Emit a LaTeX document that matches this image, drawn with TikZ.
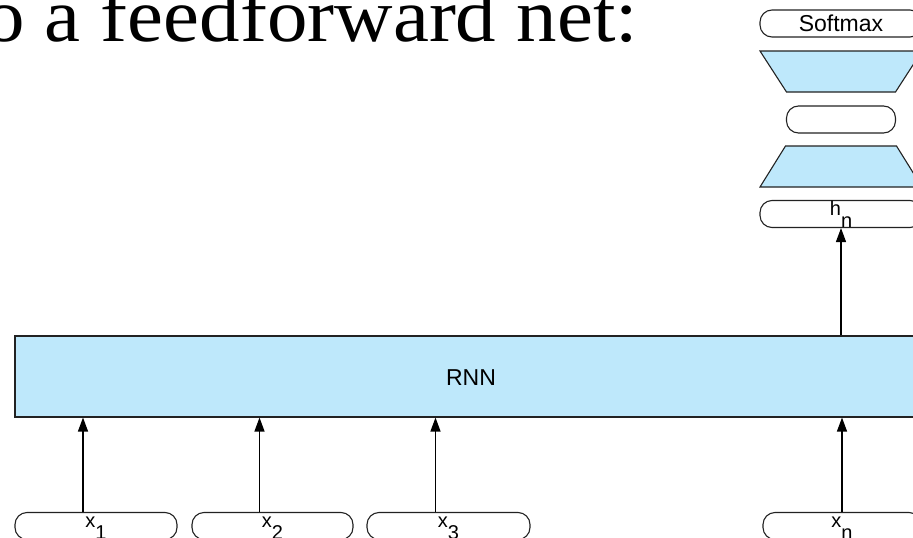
\documentclass[tikz,border=0pt]{standalone}
\usepackage{fontspec}
\setmainfont{Liberation Serif}
\setsansfont{Liberation Sans}
\newfontfamily\headfont[FakeStretch=1.065]{Liberation Serif}
\usetikzlibrary{arrows.meta}

\definecolor{layerblue}{HTML}{BEE8FB}
\definecolor{edgegray}{HTML}{222222}

\tikzset{
  pill/.style={draw=edgegray, line width=1.1pt, rounded corners=12pt,
    inner sep=0pt, minimum height=27pt},
  layer/.style={draw=edgegray, line width=1.1pt, fill=layerblue, line join=miter},
  lbl/.style={font=\sffamily\fontsize{20}{20}\selectfont, inner sep=0pt, anchor=base},
  bigsans/.style={font=\sffamily\fontsize{23}{23}\selectfont, inner sep=0pt},
  arr/.style={line width=1.3pt, draw=black, -{Triangle[length=14pt,width=10pt]}},
}

\newcommand{\subtxt}[2]{#1\raisebox{-12pt}{#2}}

\begin{document}
\begin{tikzpicture}[x=1pt,y=-1pt]
\useasboundingbox (0,0) rectangle (913,538);
\clip (0,0) rectangle (913,538);

% slide heading
\node[anchor=base west, inner sep=0pt,
      font=\headfont\fontsize{76}{76}\selectfont] (title) at (-16,41) {o a feedforward net:};

% recurrent layer
\node[draw=edgegray, line width=1.1pt, fill=layerblue, inner sep=0pt,
      minimum width=912pt, minimum height=81pt] (rnn) at (471,376.5) {};
\node[bigsans] (rnnlbl) at (471,377.5) {RNN};

% input tokens
\node[pill, minimum width=162pt] (x1) at (96,526) {};
\node[pill, minimum width=161pt] (x2) at (272.5,526) {};
\node[pill, minimum width=163pt] (x3) at (448.5,526) {};
\node[pill, minimum width=158pt] (xn) at (842,526) {};
\node[lbl] (x1l) at ([yshift=-15.7pt]x1.north) {\subtxt{x}{1}};
\node[lbl] (x2l) at ([yshift=-15.7pt]x2.north) {\subtxt{x}{2}};
\node[lbl] (x3l) at ([yshift=-15.7pt]x3.north) {\subtxt{x}{3}};
\node[lbl] (xnl) at ([yshift=-15.7pt]xn.north) {\subtxt{x}{n}};

% feedforward head
\node[pill, minimum width=162pt] (hn) at (841,214) {};
\node[lbl] (hnl) at ([yshift=-15.7pt]hn.north) {\subtxt{h}{n}};
\draw[layer] (760,187) -- (922,187) -- (896.5,146) -- (785.5,146) -- cycle;
\node[pill, minimum width=109pt, minimum height=27pt] (mid) at (841,119.5) {};
\draw[layer] (760,51) -- (922,51) -- (895.5,92) -- (786.5,92) -- cycle;
\node[pill, minimum width=162pt] (soft) at (841,23.5) {};
\node[bigsans] (softl) at (841,23.5) {Softmax};

% connections
\draw[arr] ([xshift=-13pt]x1.north) -- ([xshift=-13pt]x1.north |- rnn.south);
\draw[arr] ([xshift=-13pt]x2.north) -- ([xshift=-13pt]x2.north |- rnn.south);
\draw[arr] ([xshift=-13pt]x3.north) -- ([xshift=-13pt]x3.north |- rnn.south);
\draw[arr] (xn.north) -- (xn.north |- rnn.south);
\draw[arr] (hn.south |- rnn.north) -- (hn.south);
\end{tikzpicture}
\end{document}
